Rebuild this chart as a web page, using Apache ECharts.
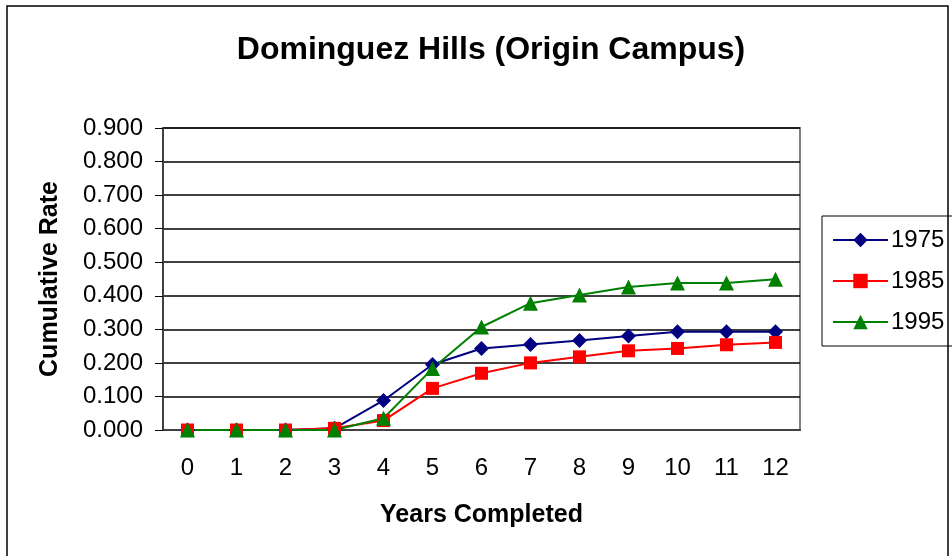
<!DOCTYPE html>
<html>
<head>
    <meta charset="utf-8">
    <title>Dominguez Hills</title>
    <script src="https://cdn.jsdelivr.net/npm/echarts@6/dist/echarts.min.js"></script>
    <style>
        html, body { margin: 0; padding: 0; background: #fff; }
    </style>
</head>
<body>
    <div id="main" style="width: 952px;height:556px;"></div>
    <script type="text/javascript">
        // data
        var years = ['0', '1', '2', '3', '4', '5', '6', '7', '8', '9', '10', '11', '12'];
        var rate1975 = [0, 0, 0, 0.005, 0.088, 0.195, 0.243, 0.255, 0.267, 0.280, 0.293, 0.293, 0.293];
        var rate1985 = [0, 0, 0, 0.005, 0.028, 0.124, 0.169, 0.200, 0.218, 0.236, 0.243, 0.254, 0.261];
        var rate1995 = [0, 0, 0, 0, 0.035, 0.183, 0.307, 0.378, 0.402, 0.426, 0.438, 0.438, 0.449];

        var font = 'Liberation Sans, Arial, sans-serif';
        var myChart = echarts.init(document.getElementById('main'));

        function line(name, data, color, symbol, size) {
            return {
                name: name,
                type: 'line',
                data: data,
                symbol: symbol,
                symbolSize: size,
                showAllSymbol: true,
                lineStyle: { color: color, width: 2 },
                itemStyle: { color: color },
                emphasis: { disabled: true },
                animation: false
            };
        }

        var option = {
            backgroundColor: '#fff',
            title: {
                text: 'Dominguez Hills (Origin Campus)',
                left: 486,
                textAlign: 'center',
                top: 29,
                textStyle: { fontFamily: font, fontSize: 32, fontWeight: 'bold', color: '#000' }
            },
            graphic: [{
                type: 'rect',
                shape: { x: 7, y: 6, width: 941, height: 560 },
                style: { fill: 'none', stroke: '#000', lineWidth: 1.5 },
                silent: true
            }],
            legend: {
                orient: 'vertical',
                left: 822,
                top: 216,
                padding: [12, 40, 12, 10],
                itemGap: 17,
                itemWidth: 55,
                itemHeight: 18,
                borderColor: '#000',
                borderWidth: 1,
                textStyle: { fontFamily: font, fontSize: 24, color: '#000', padding: [0, 0, 0, -2] },
                data: ['1975', '1985', '1995']
            },
            grid: {
                left: 163,
                right: 152,
                top: 128,
                bottom: 126,
                show: true,
                borderColor: '#808080',
                borderWidth: 2
            },
            xAxis: {
                type: 'category',
                data: years,
                boundaryGap: true,
                name: 'Years Completed',
                nameLocation: 'middle',
                nameGap: 73,
                nameTextStyle: { fontFamily: font, fontSize: 25, fontWeight: 'bold', color: '#000' },
                axisLine: { lineStyle: { color: '#404040', width: 2 } },
                axisTick: { length: 7, lineStyle: { color: '#808080', width: 2 } },
                axisLabel: { margin: 26, fontFamily: font, fontSize: 24, color: '#000' },
                splitLine: { show: false }
            },
            yAxis: {
                type: 'value',
                min: 0,
                max: 0.9,
                interval: 0.1,
                name: 'Cumulative Rate',
                nameLocation: 'middle',
                nameGap: 100,
                nameTextStyle: { fontFamily: font, fontSize: 25, fontWeight: 'bold', color: '#000' },
                axisLine: { show: true, lineStyle: { color: '#404040', width: 2 } },
                axisTick: { show: true, length: 8, lineStyle: { color: '#000', width: 1 } },
                axisLabel: {
                    margin: 20,
                    fontFamily: font,
                    fontSize: 24,
                    color: '#000',
                    formatter: function (v) { return v.toFixed(3); }
                },
                splitLine: { lineStyle: { color: '#000', width: 1.5 } }
            },
            series: [
                line('1975', rate1975, '#000080', 'diamond', 15),
                line('1985', rate1985, '#FF0000', 'rect', 13),
                line('1995', rate1995, '#008000', 'triangle', 15)
            ]
        };
        myChart.setOption(option);
    </script>
</body>
</html>
